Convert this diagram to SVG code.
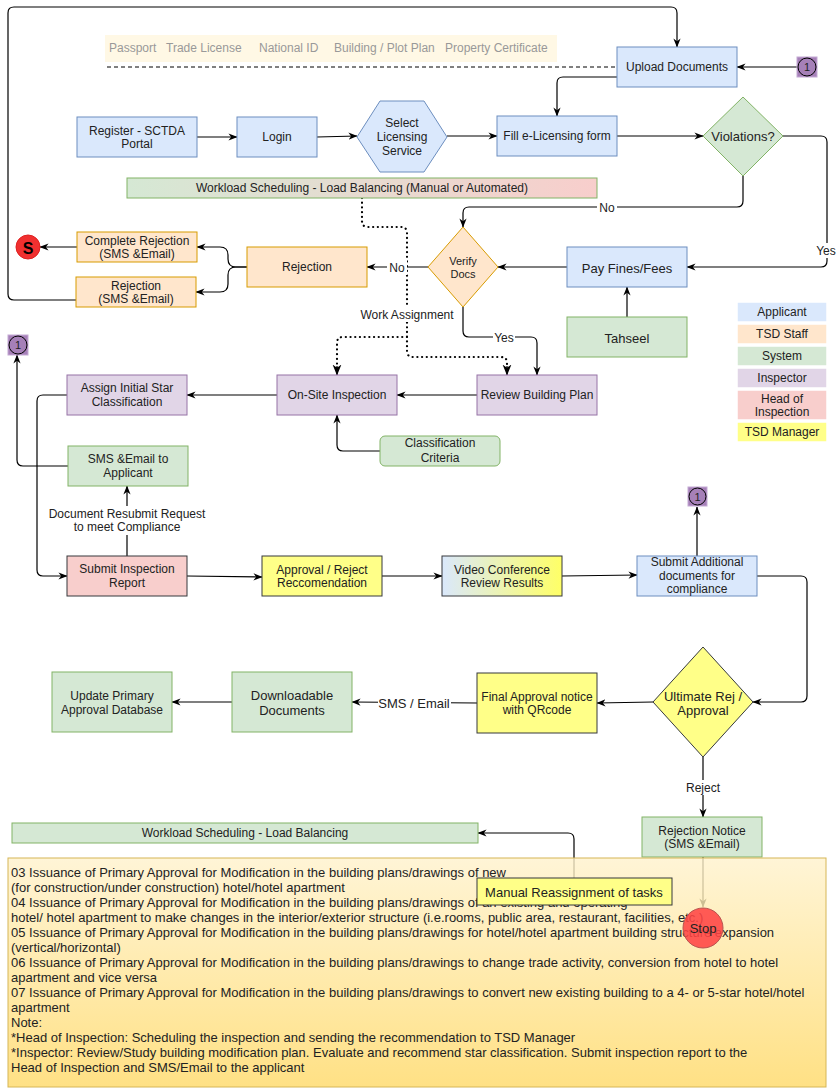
<svg xmlns="http://www.w3.org/2000/svg" width="838" height="1089" viewBox="0 0 838 1089">
<style>
text{font-family:"Liberation Sans",Arial,sans-serif;fill:#222;font-size:12px}
.c{text-anchor:middle;dominant-baseline:central}
.f13{font-size:13px}
.blue{fill:#dae8fc;stroke:#6c8ebf}
.orange{fill:#ffe6cc;stroke:#d79b00}
.green{fill:#d5e8d4;stroke:#82b366}
.purple{fill:#e1d5e7;stroke:#9673a6}
.red{fill:#f8cecc;stroke:#36393d}
.yellow{fill:#ffff88;stroke:#36393d}
.edge{fill:none;stroke:#000;stroke-width:1.2}
.dot{fill:none;stroke:#000;stroke-width:2.2;stroke-dasharray:0.1 4.6;stroke-linecap:round}
.lbl{fill:#fff}
.leg{stroke:#fff;stroke-width:1.5}
.doc{fill:#999}
.note text{font-size:13px}
</style>
<defs>
<marker id="ar" viewBox="0 0 10 10" refX="9.5" refY="5" markerWidth="9" markerHeight="9" orient="auto" markerUnits="userSpaceOnUse">
<path d="M0,1 L10,5 L0,9 L3,5 z" fill="#000"/>
</marker>
<marker id="ard" viewBox="0 0 10 10" refX="9.5" refY="5" markerWidth="11" markerHeight="11" orient="auto" markerUnits="userSpaceOnUse">
<path d="M0,1 L10,5 L0,9 L3,5 z" fill="#000"/>
</marker>
<linearGradient id="gWork" x1="0" y1="0" x2="1" y2="0">
<stop offset="0" stop-color="#d5e8d4"/><stop offset="1" stop-color="#f8cecc"/>
</linearGradient>
<linearGradient id="gVideo" x1="0" y1="0" x2="1" y2="0">
<stop offset="0" stop-color="#dae8fc"/><stop offset="1" stop-color="#ffff66"/>
</linearGradient>
<linearGradient id="gNote" x1="0" y1="0" x2="0" y2="1">
<stop offset="0" stop-color="#fff2cc"/><stop offset="1" stop-color="#ffd966"/>
</linearGradient>
</defs>
<rect width="838" height="1089" fill="#fff"/>

<g id="connectors">
<path class="edge" d="M197,137 L237,137" marker-end="url(#ar)"/>
<path class="edge" d="M317,137 L357,136" marker-end="url(#ar)"/>
<path class="edge" d="M447,136 L497,136" marker-end="url(#ar)"/>
<path class="edge" d="M617,136 L703,136" marker-end="url(#ar)"/>
<path class="edge" d="M617,77 L563,77 Q557,77 557,83 L557,116" marker-end="url(#ar)"/>
<path class="edge" d="M797,67 L737,67" marker-end="url(#ar)"/>
<path class="edge" d="M76,300 L14,300 Q8,300 8,294 L8,13 Q8,7 14,7 L671,7 Q677,7 677,13 L677,47" marker-end="url(#ar)"/>
<path class="edge" d="M783,136 L821,136 Q827,136 827,142 L827,261 Q827,267 821,267 L687,267" marker-end="url(#ar)"/>
<rect class="lbl" x="815" y="243" width="22" height="15"/>
<text class="c" x="826" y="251">Yes</text>
<path class="edge" d="M743,176 L743,201 Q743,207 737,207 L469,207 Q463,207 463,213 L463,227" marker-end="url(#ar)"/>
<rect class="lbl" x="597" y="200" width="20" height="15"/>
<text class="c" x="607" y="208">No</text>
<path class="edge" d="M567,267 L498,267" marker-end="url(#ar)"/>
<path class="edge" d="M627,317 L627,287" marker-end="url(#ar)"/>
<path class="edge" d="M428,267 L367,267" marker-end="url(#ar)"/>
<path class="edge" d="M247,267 L236,267 Q228,267 228,259 L228,255 Q228,247 220,247 L197,247" marker-end="url(#ar)"/>
<path class="edge" d="M247,267 L236,267 Q228,267 228,275 L228,284 Q228,292 220,292 L196,292" marker-end="url(#ar)"/>
<path class="edge" d="M77,247 L40,247" marker-end="url(#ar)"/>
<path class="edge" d="M463,307 L463,331 Q463,337 469,337 L531,337 Q537,337 537,343 L537,375" marker-end="url(#ar)"/>
<rect class="lbl" x="493" y="330" width="22" height="15"/>
<text class="c" x="504" y="338">Yes</text>
<path class="dot" d="M362,198 L362,221 Q362,227 368,227 L401,227 Q407,227 407,233 L407,351 Q407,357 413,357 L501,357 Q507,357 507,363 L507,372"/>
<path class="dot" d="M407,337 L343,337 Q337,337 337,343 L337,372"/>
<path class="edge" d="M507,366 L507,375" marker-end="url(#ard)"/>
<path class="edge" d="M337,366 L337,375" marker-end="url(#ard)"/>
<rect class="lbl" x="387" y="260" width="20" height="15"/>
<text class="c" x="397" y="268">No</text>
<rect class="lbl" x="359" y="307" width="96" height="15"/>
<text class="c" x="407" y="315">Work Assignment</text>
<path class="edge" d="M477,395 L397,395" marker-end="url(#ar)"/>
<path class="edge" d="M277,395 L187,395" marker-end="url(#ar)"/>
<path class="edge" d="M380,451 L343,451 Q337,451 337,445 L337,415" marker-end="url(#ar)"/>
<path class="edge" d="M67,395 L43,395 Q37,395 37,401 L37,570 Q37,576 43,576 L67,576" marker-end="url(#ar)"/>
<path class="edge" d="M68,466 L23,466 Q17,466 17,460 L17,355" marker-end="url(#ar)"/>
<path class="edge" d="M127,556 L127,486" marker-end="url(#ar)"/>
<rect class="lbl" x="46" y="506" width="162" height="29"/>
<text class="c" x="127" y="514">Document Resubmit Request</text>
<text class="c" x="127" y="527">to meet Compliance</text>
<path class="edge" d="M187,576 L262,577" marker-end="url(#ar)"/>
<path class="edge" d="M382,576 L442,576" marker-end="url(#ar)"/>
<path class="edge" d="M562,576 L637,575" marker-end="url(#ar)"/>
<path class="edge" d="M697,556 L697,507" marker-end="url(#ar)"/>
<path class="edge" d="M757,576 L801,576 Q807,576 807,582 L807,696 Q807,702 801,702 L753,702" marker-end="url(#ar)"/>
<path class="edge" d="M653,702 L597,703" marker-end="url(#ar)"/>
<path class="edge" d="M477,703 L352,702" marker-end="url(#ar)"/>
<rect class="lbl" x="378" y="695" width="73" height="16"/>
<text class="c f13" x="414" y="703">SMS / Email</text>
<path class="edge" d="M232,702 L172,702" marker-end="url(#ar)"/>
<path class="edge" d="M703,757 L703,817" marker-end="url(#ar)"/>
<rect class="lbl" x="684" y="780" width="38" height="15"/>
<text class="c" x="703" y="788">Reject</text>
<path class="edge" d="M703,857 L703,907" marker-end="url(#ar)"/>
<path class="edge" d="M574,878 L574,839 Q574,833 568,833 L478,833" marker-end="url(#ar)"/>
</g>

<g id="doc-labels">
<rect x="105" y="35" width="452" height="27" fill="#fff8e5"/>
<text class="doc" x="109" y="52">Passport</text>
<text class="doc" x="166" y="52">Trade License</text>
<text class="doc" x="259" y="52">National ID</text>
<text class="doc" x="334" y="52">Building / Plot Plan</text>
<text class="doc" x="445" y="52">Property Certificate</text>
<path d="M107,67 L617,67" stroke="#000" stroke-width="1" stroke-dasharray="4 3" fill="none"/>
</g>

<g id="upload"><rect class="blue" x="617" y="47" width="120" height="40"/><text class="c" x="677" y="67">Upload Documents</text></g>
<g id="conn1-top"><rect x="797" y="57" width="20" height="20" fill="#a680b8" stroke="#c4a9d4"/><circle cx="807" cy="67" r="9" fill="#a680b8" stroke="#000"/><text class="c" x="807" y="67" style="font-size:11px">1</text></g>
<g id="register"><rect class="blue" x="77" y="117" width="120" height="40"/><text class="c" x="137" y="131">Register - SCTDA</text><text class="c" x="137" y="144">Portal</text></g>
<g id="login"><rect class="blue" x="237" y="117" width="80" height="40"/><text class="c" x="277" y="137">Login</text></g>
<g id="select"><polygon class="blue" points="357,137 380,101 424,101 447,137 424,172 380,172"/><text class="c" x="402" y="123">Select</text><text class="c" x="402" y="137">Licensing</text><text class="c" x="402" y="151">Service</text></g>
<g id="fill"><rect class="blue" x="497" y="116" width="120" height="40"/><text class="c" x="557" y="136">Fill e-Licensing form</text></g>
<g id="violations"><polygon class="green" points="743,97 783,136 743,176 703,136"/><text class="c f13" x="743" y="136">Violations?</text></g>
<g id="workload-top"><rect x="127" y="178" width="470" height="20" fill="url(#gWork)" stroke="#82b366"/><text class="c" x="362" y="188">Workload Scheduling - Load Balancing (Manual or Automated)</text></g>
<g id="verify"><polygon class="orange" points="463,227 498,267 463,307 428,267"/><text class="c" x="463" y="261" style="font-size:11px">Verify</text><text class="c" x="463" y="274" style="font-size:11px">Docs</text></g>
<g id="pay"><rect class="blue" x="567" y="247" width="120" height="40"/><text class="c f13" x="627" y="268">Pay Fines/Fees</text></g>
<g id="tahseel"><rect class="green" x="567" y="317" width="120" height="40"/><text class="c f13" x="627" y="338">Tahseel</text></g>
<g id="rejection"><rect class="orange" x="247" y="247" width="120" height="40"/><text class="c" x="307" y="267">Rejection</text></g>
<g id="complete-rejection"><rect class="orange" x="77" y="232" width="120" height="30"/><text class="c" x="137" y="241">Complete Rejection</text><text class="c" x="137" y="254">(SMS &amp;Email)</text></g>
<g id="rejection-sms"><rect class="orange" x="76" y="277" width="120" height="30"/><text class="c" x="136" y="286">Rejection</text><text class="c" x="136" y="299">(SMS &amp;Email)</text></g>
<g id="s-end"><circle cx="28" cy="247" r="12" fill="#f03030" stroke="#e02020"/><text class="c" x="28" y="248" style="font-size:16px;font-weight:bold;fill:#000">S</text></g>
<g id="legend">
<rect class="leg" x="737" y="302" width="90" height="20" fill="#dae8fc"/><text class="c" x="782" y="312">Applicant</text>
<rect class="leg" x="737" y="324" width="90" height="20" fill="#ffe6cc"/><text class="c" x="782" y="334">TSD Staff</text>
<rect class="leg" x="737" y="346" width="90" height="20" fill="#d5e8d4"/><text class="c" x="782" y="356">System</text>
<rect class="leg" x="737" y="368" width="90" height="20" fill="#e1d5e7"/><text class="c" x="782" y="378">Inspector</text>
<rect class="leg" x="737" y="390" width="90" height="30" fill="#f8cecc"/><text class="c" x="782" y="399">Head of</text><text class="c" x="782" y="412">Inspection</text>
<rect class="leg" x="737" y="422" width="90" height="20" fill="#ffff88"/><text class="c" x="782" y="432">TSD Manager</text>
</g>
<g id="review"><rect class="purple" x="477" y="375" width="120" height="40"/><text class="c" x="537" y="395">Review Building Plan</text></g>
<g id="onsite"><rect class="purple" x="277" y="375" width="120" height="40"/><text class="c" x="337" y="395">On-Site Inspection</text></g>
<g id="assign"><rect class="purple" x="67" y="375" width="120" height="40"/><text class="c" x="127" y="388">Assign Initial Star</text><text class="c" x="127" y="402">Classification</text></g>
<g id="criteria"><rect class="green" x="380" y="436" width="120" height="30" rx="5"/><text class="c" x="440" y="443">Classification</text><text class="c" x="440" y="458">Criteria</text></g>
<g id="conn1-left"><rect x="8" y="335" width="20" height="20" fill="#a680b8" stroke="#c4a9d4"/><circle cx="18" cy="345" r="9" fill="#a680b8" stroke="#000"/><text class="c" x="18" y="345" style="font-size:11px">1</text></g>
<g id="sms-applicant"><rect class="green" x="68" y="446" width="120" height="40"/><text class="c" x="128" y="459">SMS &amp;Email to</text><text class="c" x="128" y="473">Applicant</text></g>
<g id="submit-report"><rect class="red" x="67" y="556" width="120" height="40"/><text class="c" x="127" y="569">Submit Inspection</text><text class="c" x="127" y="583">Report</text></g>
<g id="approval-rec"><rect class="yellow" x="262" y="556" width="120" height="40"/><text class="c" x="322" y="570">Approval / Reject</text><text class="c" x="322" y="583">Reccomendation</text></g>
<g id="video"><rect x="442" y="556" width="120" height="40" fill="url(#gVideo)" stroke="#36393d"/><text class="c" x="502" y="570">Video Conference</text><text class="c" x="502" y="583">Review Results</text></g>
<g id="submit-additional"><rect class="blue" x="637" y="556" width="120" height="40"/><text class="c" x="697" y="562">Submit Additional</text><text class="c" x="697" y="576">documents for</text><text class="c" x="697" y="589">compliance</text></g>
<g id="conn1-mid"><rect x="688" y="487" width="19" height="19" fill="#a680b8" stroke="#c4a9d4"/><circle cx="697.5" cy="496.5" r="8.5" fill="#a680b8" stroke="#000"/><text class="c" x="697.5" y="496.5" style="font-size:11px">1</text></g>
<g id="ultimate"><polygon class="yellow" points="703,647 753,702 703,757 653,702"/><text class="c f13" x="703" y="696">Ultimate Rej /</text><text class="c f13" x="703" y="710">Approval</text></g>
<g id="final"><rect class="yellow" x="477" y="673" width="120" height="60"/><text class="c" x="537" y="697">Final Approval notice</text><text class="c" x="537" y="710">with QRcode</text></g>
<g id="downloadable"><rect class="green" x="232" y="672" width="120" height="60"/><text class="c f13" x="292" y="695">Downloadable</text><text class="c f13" x="292" y="710">Documents</text></g>
<g id="update-db"><rect class="green" x="52" y="672" width="120" height="60"/><text class="c" x="112" y="696">Update Primary</text><text class="c" x="112" y="710">Approval Database</text></g>
<g id="rejection-notice"><rect class="green" x="642" y="817" width="120" height="40"/><text class="c" x="702" y="831">Rejection Notice</text><text class="c" x="702" y="844">(SMS &amp;Email)</text></g>
<g id="workload-bottom"><rect class="green" x="12" y="823" width="466" height="20"/><text class="c" x="245" y="833">Workload Scheduling - Load Balancing</text></g>

<g id="note" class="note">
<rect x="8" y="858" width="818" height="229" fill="url(#gNote)" fill-opacity="0.8" stroke="#d6b656"/>
<text x="11" y="877">03 Issuance of Primary Approval for Modification in the building plans/drawings of new</text>
<text x="11" y="892">(for construction/under construction) hotel/hotel apartment</text>
<text x="11" y="907">04 Issuance of Primary Approval for Modification in the building plans/drawings of an existing and operating</text>
<text x="11" y="922">hotel/ hotel apartment to make changes in the interior/exterior structure (i.e.rooms, public area, restaurant, facilities, etc.)</text>
<text x="11" y="937">05 Issuance of Primary Approval for Modification in the building plans/drawings for hotel/hotel apartment building structure expansion</text>
<text x="11" y="952">(vertical/horizontal)</text>
<text x="11" y="967">06 Issuance of Primary Approval for Modification in the building plans/drawings to change trade activity, conversion from hotel to hotel</text>
<text x="11" y="982">apartment and vice versa</text>
<text x="11" y="997">07 Issuance of Primary Approval for Modification in the building plans/drawings to convert new existing building to a 4- or 5-star hotel/hotel</text>
<text x="11" y="1012">apartment</text>
<text x="11" y="1027">Note:</text>
<text x="11" y="1042">*Head of Inspection: Scheduling the inspection and sending the recommendation to TSD Manager</text>
<text x="11" y="1057">*Inspector: Review/Study building modification plan. Evaluate and recommend star classification. Submit inspection report to the</text>
<text x="11" y="1072">Head of Inspection and SMS/Email to the applicant</text>
</g>
<g id="manual"><rect class="yellow" x="477" y="878" width="195" height="27"/><text class="c f13" x="574" y="892">Manual Reassignment of tasks</text></g>
<g id="stop"><circle cx="703" cy="928" r="20" fill="#f44" fill-opacity="0.88" stroke="#b85450"/><text class="c f13" x="703" y="928">Stop</text></g>
</svg>
